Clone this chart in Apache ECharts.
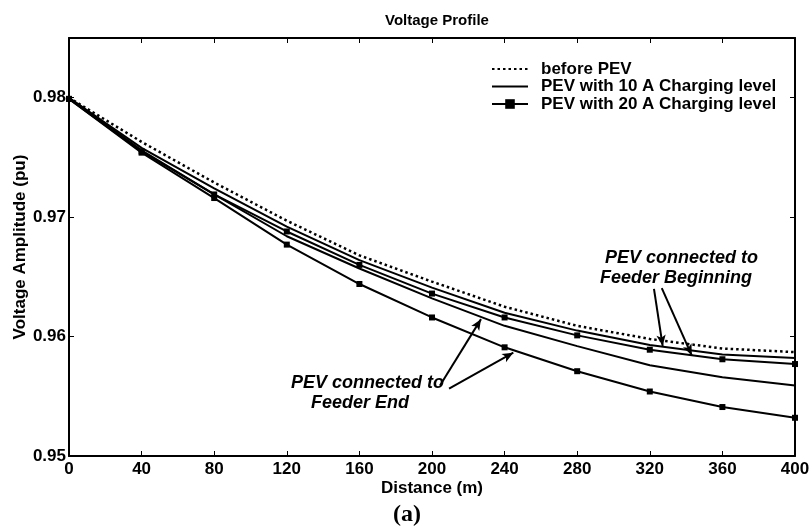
<!DOCTYPE html>
<html>
<head>
<meta charset="utf-8">
<script src="https://cdn.jsdelivr.net/npm/echarts@6/dist/echarts.min.js"></script>
<style>
html,body{margin:0;padding:0;background:#fff;}
#chart{width:811px;height:531px;}
</style>
</head>
<body>
<div id="chart"></div>
<script>
// ---- data ----
const distance = [0, 40, 80, 120, 160, 200, 240, 280, 320, 360, 400];
const beforePEV   = [0.9800, 0.9763, 0.9729, 0.9697, 0.9668, 0.9646, 0.9625, 0.9609, 0.9598, 0.9590, 0.9587];
const pev10Begin  = [0.9800, 0.9758, 0.9724, 0.9692, 0.9664, 0.9641, 0.9620, 0.9605, 0.9593, 0.9585, 0.9582];
const pev20Begin  = [0.9799, 0.9755, 0.9719, 0.9688, 0.9660, 0.9636, 0.9616, 0.9601, 0.9589, 0.9581, 0.9577];
const pev10End    = [0.9800, 0.9756, 0.9719, 0.9684, 0.9657, 0.9632, 0.9609, 0.9592, 0.9576, 0.9566, 0.9559];
const pev20End    = [0.9799, 0.9754, 0.9716, 0.9677, 0.9644, 0.9616, 0.9591, 0.9571, 0.9554, 0.9541, 0.9532];
const legendNames = ['before PEV', 'PEV with 10 A Charging level', 'PEV with 20 A Charging level'];
// annotation arrows, in data units [distance, voltage]
const arrowsBegin = [[[322.3, 0.96400], [327.1, 0.95921]], [[326.6, 0.96405], [343.1, 0.95843]]];
const arrowsEnd   = [[[204.4, 0.95590], [227.0, 0.96146]], [[209.4, 0.95565], [244.8, 0.95865]]];

const FONT = 'Liberation Sans, Arial, sans-serif';
const pairs = v => distance.map((d, i) => [d, v[i]]);

const chart = echarts.init(document.getElementById('chart'), null, {renderer: 'canvas'});

const axisCommon = {
  axisLine: {show: true, onZero: false, lineStyle: {color: '#000', width: 2}},
  axisTick: {show: true, inside: true, length: 5, lineStyle: {color: '#000', width: 1}},
  splitLine: {show: false}
};
const labelStyle = {color: '#000', fontFamily: FONT, fontWeight: 'bold', fontSize: 17};

const arrowData = arrowsBegin.concat(arrowsEnd).map(a => [{coord: a[0]}, {coord: a[1]}]);

const option = {
  animation: false,
  backgroundColor: '#fff',
  title: {
    text: 'Voltage Profile', left: 432, top: 8, textAlign: 'center',
    textStyle: {color: '#000', fontFamily: FONT, fontWeight: 'bold', fontSize: 15}
  },
  grid: {left: 69, right: 16, top: 38, bottom: 75, containLabel: false, outerBoundsMode: 'none'},
  legend: {
    orient: 'vertical', left: 491, top: 60.5, padding: 0,
    itemWidth: 36, itemHeight: 12, itemGap: 0.5,
    textStyle: Object.assign({padding: [0, 0, 0, 8], lineHeight: 17}, labelStyle),
    data: [
      {name: legendNames[0], itemStyle: {opacity: 0}},
      {name: legendNames[1], itemStyle: {opacity: 0}},
      {name: legendNames[2]}
    ]
  },
  xAxis: [
    Object.assign({}, axisCommon, {
      type: 'value', position: 'bottom', min: 0, max: 400, interval: 40,
      axisLabel: Object.assign({margin: 5}, labelStyle),
      name: 'Distance (m)', nameLocation: 'middle', nameGap: 24, nameMoveOverlap: false,
      nameTextStyle: labelStyle
    }),
    Object.assign({}, axisCommon, {
      type: 'value', position: 'top', min: 0, max: 400, interval: 40,
      axisLabel: {show: false}
    })
  ],
  yAxis: [
    Object.assign({}, axisCommon, {
      type: 'value', position: 'left', min: 0.95, max: 0.985, interval: 0.01,
      axisLabel: Object.assign({margin: 3, showMaxLabel: false, formatter: v => v.toFixed(2)}, labelStyle),
      name: 'Voltage Amplitude (pu)', nameLocation: 'middle', nameGap: 40, nameMoveOverlap: false,
      nameTextStyle: labelStyle
    }),
    Object.assign({}, axisCommon, {
      type: 'value', position: 'right', min: 0.95, max: 0.985, interval: 0.01,
      axisLabel: {show: false}
    })
  ],
  series: [
    {
      name: legendNames[0], type: 'line', data: pairs(beforePEV), symbol: 'none',
      lineStyle: {color: '#000', width: 2.5, type: [2.5, 3]}, itemStyle: {color: '#000'}
    },
    {
      name: legendNames[1], type: 'line', data: pairs(pev10Begin), symbol: 'none',
      lineStyle: {color: '#000', width: 2}, itemStyle: {color: '#000'}
    },
    {
      name: legendNames[2], type: 'line', data: pairs(pev20Begin), symbol: 'rect', symbolSize: 6,
      lineStyle: {color: '#000', width: 2}, itemStyle: {color: '#000'}
    },
    {
      name: legendNames[1], type: 'line', data: pairs(pev10End), symbol: 'none',
      lineStyle: {color: '#000', width: 2}, itemStyle: {color: '#000'}
    },
    {
      name: legendNames[2], type: 'line', data: pairs(pev20End), symbol: 'rect', symbolSize: 6,
      lineStyle: {color: '#000', width: 2}, itemStyle: {color: '#000'},
      markLine: {
        silent: true, symbol: ['none', 'arrow'], symbolSize: [7, 11],
        lineStyle: {color: '#000', width: 2, type: 'solid'},
        label: {show: false}, emphasis: {disabled: true},
        data: arrowData
      }
    }
  ],
  graphic: [
    {type: 'text', left: 605, top: 249, style: {text: 'PEV connected to', fill: '#000', font: 'italic bold 18px ' + FONT}},
    {type: 'text', left: 600, top: 269, style: {text: 'Feeder Beginning', fill: '#000', font: 'italic bold 18px ' + FONT}},
    {type: 'text', left: 291, top: 374, style: {text: 'PEV connected to', fill: '#000', font: 'italic bold 18px ' + FONT}},
    {type: 'text', left: 311, top: 394, style: {text: 'Feeder End', fill: '#000', font: 'italic bold 18px ' + FONT}},
    {type: 'text', left: 393, top: 503, style: {text: '(a)', fill: '#000', font: 'bold 24px Liberation Serif, Times New Roman, serif'}}
  ]
};
chart.setOption(option);
</script>
</body>
</html>
